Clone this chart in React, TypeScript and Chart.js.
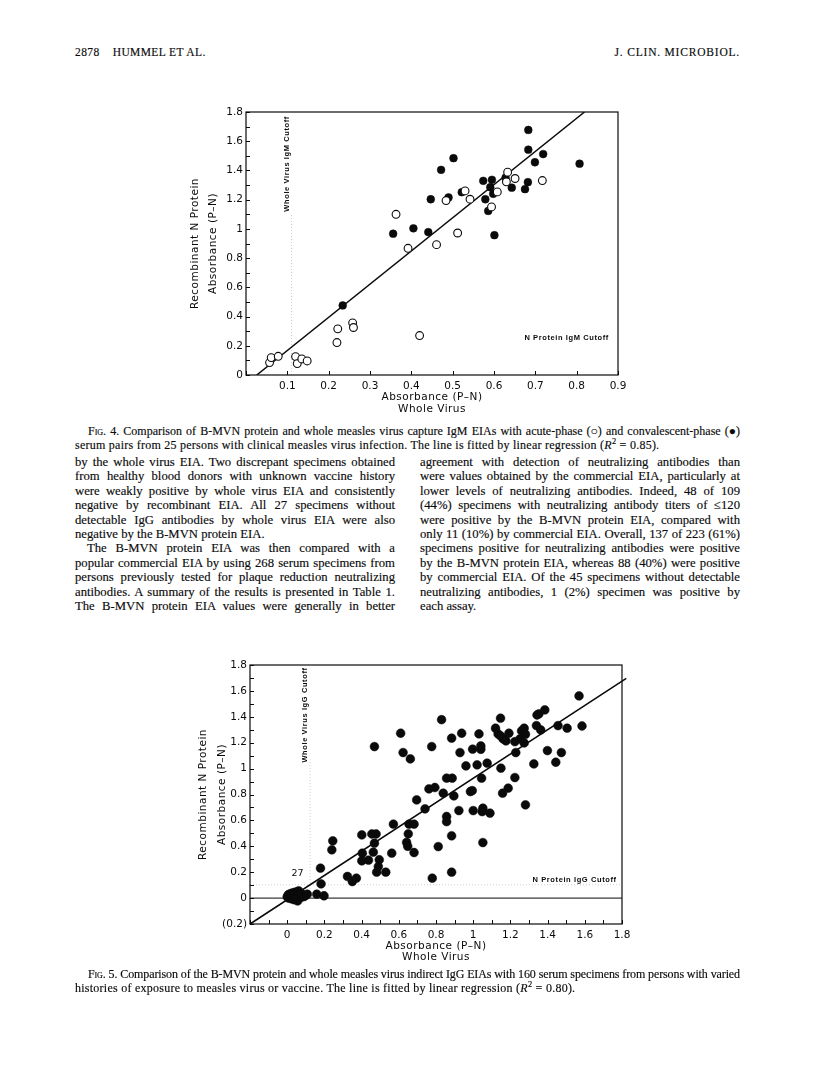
import React, { useEffect, useLayoutEffect, useRef } from 'react';
import { Chart, registerables } from 'chart.js';
Chart.register(...registerables);

// ---------- FIG. 4 data (IgM) ----------
const fig4AcuteX = [0.057, 0.061, 0.078, 0.120, 0.124, 0.135, 0.148, 0.220, 0.222, 0.258, 0.260, 0.420, 0.363, 0.392, 0.461, 0.512, 0.484, 0.530, 0.542, 0.594, 0.608, 0.633, 0.630, 0.651, 0.717];
const fig4AcuteY = [0.085, 0.119, 0.128, 0.126, 0.078, 0.110, 0.096, 0.222, 0.316, 0.357, 0.325, 0.270, 1.100, 0.867, 0.892, 0.972, 1.194, 1.260, 1.203, 1.150, 1.253, 1.388, 1.322, 1.345, 1.331];
const fig4ConvX = [0.234, 0.356, 0.405, 0.441, 0.447, 0.472, 0.490, 0.502, 0.522, 0.574, 0.579, 0.586, 0.591, 0.595, 0.598, 0.601, 0.628, 0.643, 0.675, 0.682, 0.683, 0.683, 0.699, 0.719, 0.807];
const fig4ConvY = [0.476, 0.967, 1.004, 0.978, 1.203, 1.404, 1.215, 1.484, 1.251, 1.329, 1.203, 1.123, 1.285, 1.336, 1.240, 0.957, 1.350, 1.282, 1.272, 1.320, 1.542, 1.677, 1.456, 1.512, 1.446];
const fig4FitX = [0.026, 0.819];
const fig4FitY = [0, 1.8];
const fig4XTickValues = [0.1, 0.2, 0.3, 0.4, 0.5, 0.6, 0.7, 0.8, 0.9];
const fig4XTickLabels = ['0.1', '0.2', '0.3', '0.4', '0.5', '0.6', '0.7', '0.8', '0.9'];
const fig4YTickValues = [0, 0.2, 0.4, 0.6, 0.8, 1, 1.2, 1.4, 1.6, 1.8];
const fig4YTickLabels = ['0', '0.2', '0.4', '0.6', '0.8', '1', '1.2', '1.4', '1.6', '1.8'];

// ---------- FIG. 5 data (IgG) ----------
const fig5X = [
  0.000, 0.005, 0.008, 0.012, 0.015, 0.020, 0.022, 0.026, 0.030, 0.032, 0.036, 0.040, 0.042, 0.046, 0.050,
  0.052, 0.056, 0.060, 0.062, 0.066, 0.070, 0.074, 0.080, 0.090, 0.100, 0.108, 0.056, 0.036, 0.159, 0.198,
  0.179, 0.182, 0.245, 0.240, 0.324, 0.350, 0.372, 0.401, 0.404, 0.401, 0.437, 0.455, 0.478, 0.469, 0.463,
  0.469, 0.495, 0.490, 0.481, 0.530, 0.562, 0.571, 0.610, 0.623, 0.642, 0.648, 0.651, 0.655, 0.662, 0.682,
  0.682, 0.696, 0.741, 0.762, 0.777, 0.780, 0.794, 0.812, 0.830, 0.839, 0.857, 0.887, 0.857, 0.857, 0.884,
  0.884, 0.884, 0.896, 0.923, 0.929, 0.938, 0.961, 0.985, 0.995, 0.997, 1.000, 1.021, 1.031, 1.041, 1.041,
  1.045, 1.052, 1.048, 1.052, 1.075, 1.090, 1.120, 1.134, 1.147, 1.161, 1.176, 1.147, 1.192, 1.149, 1.158,
  1.188, 1.224, 1.229, 1.224, 1.251, 1.260, 1.274, 1.274, 1.281, 1.281, 1.326, 1.340, 1.343, 1.353, 1.363,
  1.385, 1.399, 1.444, 1.456, 1.474, 1.505, 1.569, 1.585,
];
const fig5Y = [
  0.010, 0.025, 0.000, 0.030, 0.012, 0.035, -0.005, 0.018, 0.040, 0.002, 0.022, 0.008, 0.045, -0.012, 0.028,
  0.002, 0.050, 0.015, 0.055, 0.032, 0.018, 0.005, 0.030, 0.012, 0.020, 0.030, -0.022, -0.012, 0.030, 0.018,
  0.231, 0.110, 0.442, 0.373, 0.167, 0.128, 0.154, 0.488, 0.347, 0.288, 0.293, 0.495, 0.495, 0.424, 0.355,
  1.170, 0.296, 0.244, 0.200, 0.200, 0.347, 0.571, 1.273, 1.124, 0.430, 0.400, 0.496, 0.571, 1.075, 0.571,
  0.352, 0.758, 0.689, 0.843, 1.170, 0.154, 0.854, 0.398, 1.378, 0.810, 0.926, 0.926, 0.630, 0.590, 1.235,
  0.481, 0.200, 0.789, 0.676, 1.124, 1.273, 1.021, 0.823, 0.830, 1.150, 0.676, 1.029, 1.268, 1.175, 1.149,
  0.926, 0.694, 0.668, 0.429, 1.042, 0.656, 1.312, 1.268, 1.252, 1.229, 1.214, 1.389, 1.273, 1.003, 0.810,
  0.849, 1.208, 1.124, 0.931, 1.229, 1.291, 1.312, 1.198, 1.265, 0.720, 1.036, 1.332, 1.414, 1.422, 1.299,
  1.453, 1.139, 1.049, 1.332, 1.124, 1.312, 1.561, 1.329,
];
const fig5FitX = [-0.2, 1.823];
const fig5FitY = [-0.2, 1.697];
const fig5XTickValues = [0, 0.2, 0.4, 0.6, 0.8, 1, 1.2, 1.4, 1.6, 1.8];
const fig5XTickLabels = ['0', '0.2', '0.4', '0.6', '0.8', '1', '1.2', '1.4', '1.6', '1.8'];
const fig5YTickValues = [-0.2, 0, 0.2, 0.4, 0.6, 0.8, 1, 1.2, 1.4, 1.6, 1.8];
const fig5YTickLabels = ['(0.2)', '0', '0.2', '0.4', '0.6', '0.8', '1', '1.2', '1.4', '1.6', '1.8'];

// ---------- page text ----------
const leftColumn = [
  'by the whole virus EIA. Two discrepant specimens obtained',
  'from healthy blood donors with unknown vaccine history',
  'were weakly positive by whole virus EIA and consistently',
  'negative by recombinant EIA. All 27 specimens without',
  'detectable IgG antibodies by whole virus EIA were also',
  'negative by the B-MVN protein EIA.',
  'The B-MVN protein EIA was then compared with a',
  'popular commercial EIA by using 268 serum specimens from',
  'persons previously tested for plaque reduction neutralizing',
  'antibodies. A summary of the results is presented in Table 1.',
  'The B-MVN protein EIA values were generally in better',
];
const rightColumn = [
  'agreement with detection of neutralizing antibodies than',
  'were values obtained by the commercial EIA, particularly at',
  'lower levels of neutralizing antibodies. Indeed, 48 of 109',
  '(44%) specimens with neutralizing antibody titers of \u2264120',
  'were positive by the B-MVN protein EIA, compared with',
  'only 11 (10%) by commercial EIA. Overall, 137 of 223 (61%)',
  'specimens positive for neutralizing antibodies were positive',
  'by the B-MVN protein EIA, whereas 88 (40%) were positive',
  'by commercial EIA. Of the 45 specimens without detectable',
  'neutralizing antibodies, 1 (2%) specimen was positive by',
  'each assay.',
];

const SANS = '"DejaVu Sans", sans-serif';
const INK = '#0a0a0a';

function labelFor(values: number[], labels: string[], v: number) {
  const i = values.findIndex((t) => Math.abs(t - v) < 1e-6);
  return i >= 0 ? labels[i] : '';
}

type Decor = {
  yTitle: string[];
  yTitleOffsets: number[];
  xTitle: string[];
  xTitleOffsets: number[];
  vCut: { x: number; y0: number; y1: number; tx: number; ty: number; text: string };
  hCut: { y: number | null; tx: number; ty: number; text: string };
  zeroLine: boolean;
  note?: { x: number; y: number; text: string };
};

function makeDecor(d: Decor) {
  return {
    id: 'decor',
    beforeDatasetsDraw(chart: any) {
      const { ctx, chartArea: ca, scales } = chart;
      const x = scales.x, y = scales.y;
      ctx.save();
      ctx.strokeStyle = '#cfcfcf';
      ctx.lineWidth = 1;
      ctx.setLineDash([1, 2]);
      const vx = x.getPixelForValue(d.vCut.x);
      ctx.beginPath();
      ctx.moveTo(vx, y.getPixelForValue(d.vCut.y0));
      ctx.lineTo(vx, y.getPixelForValue(d.vCut.y1));
      ctx.stroke();
      if (d.hCut.y !== null) {
        const hy = y.getPixelForValue(d.hCut.y);
        ctx.beginPath();
        ctx.moveTo(ca.left, hy);
        ctx.lineTo(ca.right, hy);
        ctx.stroke();
      }
      ctx.setLineDash([]);
      if (d.zeroLine) {
        const zy = y.getPixelForValue(0);
        ctx.strokeStyle = INK;
        ctx.lineWidth = 1;
        ctx.beginPath();
        ctx.moveTo(ca.left, zy);
        ctx.lineTo(ca.right, zy);
        ctx.stroke();
      }
      ctx.fillStyle = INK;
      ctx.font = 'bold 7.5px "Liberation Sans", sans-serif';
      try { (ctx as any).letterSpacing = '0.6px'; } catch (e) {}
      ctx.save();
      ctx.translate(x.getPixelForValue(d.vCut.tx), y.getPixelForValue(d.vCut.ty));
      ctx.rotate(-Math.PI / 2);
      ctx.textAlign = 'center';
      ctx.textBaseline = 'middle';
      ctx.fillText(d.vCut.text, 0, 0);
      ctx.restore();
      ctx.textAlign = 'right';
      ctx.textBaseline = 'middle';
      ctx.fillText(d.hCut.text, x.getPixelForValue(d.hCut.tx), y.getPixelForValue(d.hCut.ty));
      try { (ctx as any).letterSpacing = '0px'; } catch (e) {}
      if (d.note) {
        ctx.font = '9.5px ' + SANS;
        ctx.textAlign = 'center';
        ctx.fillText(d.note.text, x.getPixelForValue(d.note.x), y.getPixelForValue(d.note.y));
      }
      ctx.restore();
    },
    afterDraw(chart: any) {
      const { ctx, chartArea: ca, scales } = chart;
      const x = scales.x, y = scales.y;
      ctx.save();
      ctx.strokeStyle = INK;
      ctx.lineWidth = 1.2;
      ctx.strokeRect(ca.left, ca.top, ca.right - ca.left, ca.bottom - ca.top);
      ctx.lineWidth = 1;
      ctx.beginPath();
      for (const t of x.ticks) {
        const px = Math.round(x.getPixelForValue(t.value)) + 0.5;
        ctx.moveTo(px, ca.bottom);
        ctx.lineTo(px, ca.bottom - 4);
      }
      for (const t of y.ticks) {
        const py = Math.round(y.getPixelForValue(t.value)) + 0.5;
        ctx.moveTo(ca.left, py);
        ctx.lineTo(ca.left + 4, py);
      }
      ctx.stroke();
      ctx.fillStyle = INK;
      ctx.font = '10.5px ' + SANS;
      try { (ctx as any).letterSpacing = '0.5px'; } catch (e) {}
      ctx.textAlign = 'center';
      ctx.textBaseline = 'middle';
      const cx = (ca.left + ca.right) / 2;
      d.xTitle.forEach((s, i) => ctx.fillText(s, cx, ca.bottom + d.xTitleOffsets[i]));
      const cy = (ca.top + ca.bottom) / 2;
      d.yTitle.forEach((s, i) => {
        ctx.save();
        ctx.translate(ca.left + d.yTitleOffsets[i], cy);
        ctx.rotate(-Math.PI / 2);
        ctx.fillText(s, 0, 0);
        ctx.restore();
      });
      ctx.restore();
    },
  };
}

function pts(xs: number[], ys: number[]) {
  return xs.map((x, i) => ({ x, y: ys[i] }));
}

function buildConfig(opts: {
  datasets: any[];
  xMin: number; xMax: number; yMin: number; yMax: number;
  xVals: number[]; xLabs: string[]; yVals: number[]; yLabs: string[];
  yWidth: number; xHeight: number; padTop: number; padRight: number;
  decor: Decor;
}) {
  const tickFont = { family: 'DejaVu Sans', size: 10.5 };
  return {
    type: 'scatter',
    data: { datasets: opts.datasets },
    plugins: [makeDecor(opts.decor)],
    options: {
      responsive: false,
      animation: false,
      events: [],
      layout: { padding: { top: opts.padTop, right: opts.padRight, left: 0, bottom: 0 } },
      plugins: { legend: { display: false }, tooltip: { enabled: false } },
      scales: {
        x: {
          type: 'linear',
          min: opts.xMin,
          max: opts.xMax,
          grid: { display: false, drawTicks: false },
          border: { display: false },
          afterFit: (s: any) => { s.height = opts.xHeight; s.paddingLeft = 0; s.paddingRight = 0; },
          ticks: {
            stepSize: 0.1,
            autoSkip: false,
            maxRotation: 0,
            padding: 5,
            color: INK,
            font: tickFont,
            callback: (v: number) => labelFor(opts.xVals, opts.xLabs, v),
          },
        },
        y: {
          type: 'linear',
          min: opts.yMin,
          max: opts.yMax,
          grid: { display: false, drawTicks: false },
          border: { display: false },
          afterFit: (s: any) => { s.width = opts.yWidth; s.paddingTop = 0; s.paddingBottom = 0; },
          ticks: {
            stepSize: 0.1,
            autoSkip: false,
            padding: 3,
            color: INK,
            font: tickFont,
            callback: (v: number) => labelFor(opts.yVals, opts.yLabs, v),
          },
        },
      },
    },
  };
}

function ChartBox({ make, left, top, width, height }: { make: () => any; left: number; top: number; width: number; height: number }) {
  const ref = useRef<HTMLCanvasElement>(null);
  useEffect(() => {
    const chart = new Chart(ref.current as HTMLCanvasElement, make());
    return () => chart.destroy();
  }, []);
  return (
    <canvas
      ref={ref}
      width={width}
      height={height}
      style={{ position: 'absolute', left, top, width, height }}
    />
  );
}

const fig4Config = () =>
  buildConfig({
    datasets: [
      {
        label: 'Acute-phase',
        data: pts(fig4AcuteX, fig4AcuteY),
        pointRadius: 3.9,
        pointBackgroundColor: '#fff',
        pointBorderColor: INK,
        pointBorderWidth: 1.1,
      },
      {
        label: 'Convalescent-phase',
        data: pts(fig4ConvX, fig4ConvY),
        pointRadius: 3.9,
        pointBackgroundColor: INK,
        pointBorderColor: INK,
        pointBorderWidth: 0.5,
      },
      {
        label: 'Fit',
        type: 'line',
        data: pts(fig4FitX, fig4FitY),
        showLine: true,
        pointRadius: 0,
        borderColor: INK,
        borderWidth: 1.5,
        fill: false,
      },
    ],
    xMin: 0, xMax: 0.9, yMin: 0, yMax: 1.8,
    xVals: fig4XTickValues, xLabs: fig4XTickLabels,
    yVals: fig4YTickValues, yLabs: fig4YTickLabels,
    yWidth: 96, xHeight: 45, padTop: 17, padRight: 32,
    decor: {
      yTitle: ['Recombinant N Protein', 'Absorbance (P\u2013N)'],
      yTitleOffsets: [-51, -33],
      xTitle: ['Absorbance (P\u2013N)', 'Whole Virus'],
      xTitleOffsets: [22, 34],
      vCut: { x: 0.11, y0: 0, y1: 1.1, tx: 0.1, ty: 1.445, text: 'Whole Virus IgM Cutoff' },
      hCut: { y: null, tx: 0.878, ty: 0.252, text: 'N Protein IgM Cutoff' },
      zeroLine: false,
    },
  });

const fig5Config = () =>
  buildConfig({
    datasets: [
      {
        label: 'Specimens',
        data: pts(fig5X, fig5Y),
        pointRadius: 4.4,
        pointBackgroundColor: INK,
        pointBorderColor: INK,
        pointBorderWidth: 0.5,
      },
      {
        label: 'Fit',
        type: 'line',
        data: pts(fig5FitX, fig5FitY),
        showLine: true,
        pointRadius: 0,
        borderColor: INK,
        borderWidth: 1.5,
        fill: false,
        clip: false,
      },
    ],
    xMin: -0.2, xMax: 1.8, yMin: -0.2, yMax: 1.8,
    xVals: fig5XTickValues, xLabs: fig5XTickLabels,
    yVals: fig5YTickValues, yLabs: fig5YTickLabels,
    yWidth: 100, xHeight: 46, padTop: 20, padRight: 28,
    decor: {
      yTitle: ['Recombinant N Protein', 'Absorbance (P\u2013N)'],
      yTitleOffsets: [-47, -28],
      xTitle: ['Absorbance (P\u2013N)', 'Whole Virus'],
      xTitleOffsets: [22, 33],
      vCut: { x: 0.123, y0: 0, y1: 1.07, tx: 0.097, ty: 1.414, text: 'Whole Virus IgG Cutoff' },
      hCut: { y: 0.103, tx: 1.771, ty: 0.142, text: 'N Protein IgG Cutoff' },
      zeroLine: true,
      note: { x: 0.055, y: 0.188, text: '27' },
    },
  });

// A single typeset line: justified to `width` by widening word spaces,
// or, if the line is naturally too long, by slightly tightening letters.
function JLine({ left, top, width, size, lh, justify = true, spacing = 0, children }: any) {
  const ref = useRef<HTMLDivElement>(null);
  useLayoutEffect(() => {
    const el = ref.current;
    if (!el || !justify) return;
    const fit = () => {
      el.style.wordSpacing = '0px';
      el.style.letterSpacing = '0px';
      const natural = el.getBoundingClientRect().width;
      const text = el.textContent || '';
      const n = (text.match(/ /g) || []).length;
      const diff = width - natural;
      if (diff >= 0) {
        if (n > 0) el.style.wordSpacing = diff / n + 'px';
      } else {
        el.style.letterSpacing = diff / text.length + 'px';
      }
    };
    fit();
    if ((document as any).fonts) (document as any).fonts.ready.then(fit);
  });
  return (
    <div
      ref={ref}
      style={{
        position: 'absolute',
        left,
        top,
        whiteSpace: 'nowrap',
        fontSize: size,
        lineHeight: lh + 'px',
        letterSpacing: spacing + 'px',
        WebkitTextStroke: '0.15px ' + INK,
      }}
    >
      {children}
    </div>
  );
}

const SC: React.CSSProperties = { fontVariant: 'small-caps' };

export default function App() {
  const bodySize = 12.7;
  const bodyLH = 14.4;
  const bodyTop = 455;
  const capSize = 12;
  const capLH = 13.5;
  return (
    <div
      style={{
        position: 'absolute',
        left: 0,
        top: 0,
        width: 816,
        height: 1080,
        background: '#fff',
        overflow: 'hidden',
        color: INK,
        fontFamily: '"Liberation Serif", "Times New Roman", serif',
      }}
    >
      {/* running head */}
      <div style={{ position: 'absolute', left: 75, top: 45, fontSize: 11.5, lineHeight: '14px', letterSpacing: '0.4px', whiteSpace: 'nowrap', WebkitTextStroke: '0.15px ' + INK }}>
        2878&nbsp;&nbsp;&nbsp;&nbsp;HUMMEL ET AL.
      </div>
      <div style={{ position: 'absolute', right: 76, top: 45, fontSize: 11.5, lineHeight: '14px', letterSpacing: '0.8px', whiteSpace: 'nowrap', WebkitTextStroke: '0.15px ' + INK }}>
        J. CLIN. MICROBIOL.
      </div>

      <ChartBox make={fig4Config} left={150} top={95} width={500} height={325} />

      <JLine left={88} top={425} width={652} size={capSize} lh={capLH}>
        <span style={SC}>Fig.</span> 4. Comparison of B-MVN protein and whole measles virus capture IgM EIAs with acute-phase ({'\u25CB'}) and convalescent-phase ({'\u25CF'})
      </JLine>
      <JLine left={75} top={425 + capLH} width={652} size={capSize} lh={capLH} justify={false} spacing={0.25}>
        serum pairs from 25 persons with clinical measles virus infection. The line is fitted by linear regression (<i>R</i><sup style={{ fontSize: '0.7em', lineHeight: 0 }}>2</sup> = 0.85).
      </JLine>

      {leftColumn.map((s, i) => (
        <JLine
          key={'l' + i}
          left={i === 6 ? 87 : 75}
          top={bodyTop + i * bodyLH}
          width={i === 6 ? 308 : 320}
          size={bodySize}
          lh={bodyLH}
          justify={i !== 5}
        >
          {s}
        </JLine>
      ))}
      {rightColumn.map((s, i) => (
        <JLine
          key={'r' + i}
          left={420}
          top={bodyTop + i * bodyLH}
          width={320}
          size={bodySize}
          lh={bodyLH}
          justify={i !== 10}
        >
          {s}
        </JLine>
      ))}

      <ChartBox make={fig5Config} left={150} top={645} width={500} height={325} />

      <JLine left={88} top={968} width={652} size={capSize} lh={capLH}>
        <span style={SC}>Fig.</span> 5. Comparison of the B-MVN protein and whole measles virus indirect IgG EIAs with 160 serum specimens from persons with varied
      </JLine>
      <JLine left={75} top={968 + capLH} width={652} size={capSize} lh={capLH} justify={false} spacing={0.25}>
        histories of exposure to measles virus or vaccine. The line is fitted by linear regression (<i>R</i><sup style={{ fontSize: '0.7em', lineHeight: 0 }}>2</sup> = 0.80).
      </JLine>
    </div>
  );
}
